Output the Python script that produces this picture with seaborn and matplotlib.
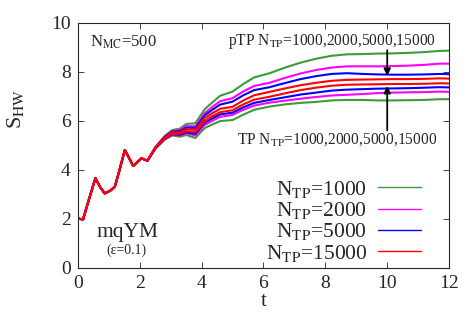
import pandas as pd
import matplotlib
matplotlib.use("Agg")
import matplotlib.pyplot as plt
import seaborn as sns

# ---------------------------------------------- datos ----------------------------------------------

# tramo inicial, igual para todas las curvas
t_early = [0, 0.06, 0.17, 0.35, 0.57, 0.72, 0.87, 1.05, 1.2, 1.35, 1.52, 1.65, 1.79, 2.06, 2.25]
s_early = [2.03, 2.0, 1.98, 2.75, 3.66, 3.3, 3.04, 3.15, 3.32, 4.0, 4.81, 4.5, 4.16, 4.47, 4.37]

# tramo tardio, curvas pTP (arriba) y TP (abajo) para cada N_TP
t_late = [2.5, 2.8, 3.05, 3.3, 3.5, 3.8, 4.1, 4.35, 4.6, 5.0, 5.35, 5.7, 6.2,
          6.7, 7.2, 7.7, 8.2, 8.7, 9.2, 9.7, 10.2, 10.7, 11.2, 11.7, 12.0]

ptp_1000 = [4.91, 5.37, 5.62, 5.68, 5.87, 5.9, 6.47, 6.75, 7.02, 7.19, 7.5, 7.77, 7.94,
            8.17, 8.37, 8.53, 8.65, 8.71, 8.72, 8.74, 8.75, 8.77, 8.8, 8.85, 8.86]
tp_1000 = [4.85, 5.22, 5.4, 5.35, 5.42, 5.3, 5.7, 5.85, 5.99, 6.03, 6.25, 6.45, 6.58,
           6.67, 6.73, 6.77, 6.83, 6.85, 6.85, 6.83, 6.83, 6.84, 6.85, 6.88, 6.88]
ptp_2000 = [4.9, 5.34, 5.58, 5.62, 5.78, 5.78, 6.31, 6.57, 6.8, 6.92, 7.2, 7.42, 7.55,
            7.75, 7.93, 8.07, 8.17, 8.22, 8.22, 8.22, 8.23, 8.25, 8.28, 8.33, 8.33]
tp_2000 = [4.86, 5.24, 5.43, 5.4, 5.49, 5.4, 5.83, 6.0, 6.16, 6.24, 6.45, 6.62, 6.74,
           6.82, 6.9, 6.97, 7.03, 7.06, 7.09, 7.13, 7.15, 7.16, 7.17, 7.19, 7.18]
ptp_5000 = [4.9, 5.33, 5.56, 5.58, 5.72, 5.71, 6.22, 6.45, 6.66, 6.78, 7.04, 7.25, 7.37,
            7.54, 7.7, 7.82, 7.91, 7.94, 7.91, 7.89, 7.88, 7.88, 7.89, 7.91, 7.9]
tp_5000 = [4.86, 5.26, 5.45, 5.43, 5.53, 5.47, 5.92, 6.1, 6.26, 6.33, 6.55, 6.73, 6.85,
           6.96, 7.07, 7.15, 7.23, 7.27, 7.29, 7.31, 7.32, 7.33, 7.35, 7.37, 7.36]
ptp_15000 = [4.89, 5.31, 5.53, 5.53, 5.66, 5.63, 6.11, 6.31, 6.49, 6.57, 6.83, 7.04, 7.18,
             7.32, 7.45, 7.55, 7.63, 7.67, 7.68, 7.69, 7.7, 7.7, 7.71, 7.73, 7.72]
tp_15000 = [4.87, 5.27, 5.47, 5.47, 5.58, 5.53, 5.99, 6.19, 6.35, 6.43, 6.67, 6.86, 6.98,
            7.12, 7.25, 7.35, 7.43, 7.47, 7.48, 7.49, 7.5, 7.5, 7.51, 7.53, 7.52]

series = ["1000", "2000", "5000", "15000"]
colores = ["#3c9c3c", "#ff00ff", "#0000ff", "#ff0000"]
curvas = {"1000": (ptp_1000, tp_1000), "2000": (ptp_2000, tp_2000),
          "5000": (ptp_5000, tp_5000), "15000": (ptp_15000, tp_15000)}

# ---------------------------------------------- tabla larga ----------------------------------------------

filas = []
for n in series:
    for rama, vals in zip(["pTP", "TP"], curvas[n]):
        for t, s in zip(t_early + t_late, s_early + vals):
            filas.append({"N": n, "rama": rama, "t": t, "S": s})
df = pd.DataFrame(filas)

# ---------------------------------------------- grafico ----------------------------------------------

sns.set_style("ticks")
plt.rcParams["font.family"] = ["Liberation Serif", "DejaVu Serif"]
plt.rcParams["mathtext.fontset"] = "stix"

fig = plt.figure(figsize=(4.63, 3.24), dpi=100)
ax = fig.add_axes([0.168, 0.173, 0.802, 0.757])

for n, c in zip(series, colores):
    for rama in ["pTP", "TP"]:
        sub = df[(df["N"] == n) & (df["rama"] == rama)]
        sns.lineplot(data=sub, x="t", y="S", color=c, lw=1.5, ax=ax,
                     label="N$_{\\mathrm{TP}}$=" + n if rama == "pTP" else None,
                     legend=False)

ax.set_xlim(0, 12)
ax.set_ylim(0, 10)
ax.set_xticks(range(0, 13, 2))
ax.set_yticks(range(0, 11, 2))
ax.tick_params(direction="in", top=True, right=True, labelsize=14, length=4, width=0.6, pad=5)
for sp in ax.spines.values():
    sp.set_linewidth(0.8)
ax.set_xlabel("t", fontsize=15, labelpad=0)
ax.set_ylabel("S$_{\\mathrm{HW}}$", fontsize=16)
ax.yaxis.set_label_coords(-0.14, 0.65)

ax.text(0.41, 9.2, "N$_{\\mathrm{MC}}$=500", fontsize=12, va="center")
ax.text(4.85, 9.25, "pTP N$_{\\mathrm{TP}}$=1000,2000,5000,15000", fontsize=11.2, va="center")
ax.text(5.13, 5.22, "TP N$_{\\mathrm{TP}}$=1000,2000,5000,15000", fontsize=11.2, va="center")
ax.text(1.62, 1.45, "mqYM", fontsize=15.5, ha="center", va="center")
ax.text(1.58, 0.72, "(ε=0.1)", fontsize=10, ha="center", va="center")

ax.annotate("", xy=(10, 7.72), xytext=(10, 8.99),
            arrowprops=dict(arrowstyle="-|>", color="black", lw=1.3, mutation_scale=10))
ax.annotate("", xy=(10, 7.53), xytext=(10, 5.5),
            arrowprops=dict(arrowstyle="-|>", color="black", lw=1.3, mutation_scale=10))

leg = ax.legend(loc="lower right", bbox_to_anchor=(0.965, -0.045), frameon=False, fontsize=15.5,
                markerfirst=False, handlelength=2.0, labelspacing=0.02, handletextpad=0.5,
                borderpad=0.2)
for h in leg.get_lines():
    h.set_linewidth(1.0)

fig.savefig("out.png", dpi=100)
